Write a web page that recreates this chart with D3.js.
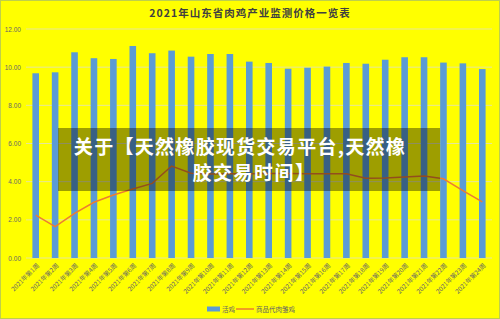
<!DOCTYPE html>
<html>
<head>
<meta charset="utf-8">
<script src="https://cdn.jsdelivr.net/npm/d3@7"></script>
<style>
  body { margin: 0; background: #ffff00; }
  text { font-family: "Noto Sans CJK SC", "Noto Sans", sans-serif; }
</style>
</head>
<body>
<div id="chart"></div>
<script>
// week labels along the bottom
const weeks = d3.range(1, 25).map(i => '2021年第' + i + '周');

// live chicken price (bars)
const liveChicken = [9.68, 9.73, 10.78, 10.47, 10.43, 11.11, 10.73, 10.87, 10.55, 10.69, 10.69, 10.29,
  10.22, 9.92, 9.97, 10.03, 10.22, 10.18, 10.39, 10.52, 10.52, 10.24, 10.2, 9.9];

// commercial broiler chick price (line)
const chickPrice = [2.25, 1.64, 2.34, 2.92, 3.3, 3.62, 3.91, 4.82, 4.44, 4.4, 4.42, 4.42,
  4.43, 4.43, 4.42, 4.42, 4.42, 4.18, 4.19, 4.24, 4.3, 4.15, 3.53, 2.94];

const yTicks = [0, 2, 4, 6, 8, 10, 12];
const seriesNames = ['活鸡', '商品代肉雏鸡'];
const title = '2021年山东省肉鸡产业监测价格一览表';
const overlayLines = ['关于【天然橡胶现货交易平台,天然橡', '胶交易时间】'];

const width = 500, height = 319;
const margin = { left: 26, right: 8, top: 29, bottom: 61 };

const svg = d3.select('#chart').append('svg')
  .attr('width', width)
  .attr('height', height);

// background + thin border
svg.append('rect')
  .attr('x', 0.5).attr('y', 0.5)
  .attr('width', width - 1).attr('height', height - 1)
  .attr('fill', '#ffff00')
  .attr('stroke', '#bfcf4a');

const x = d3.scaleBand()
  .domain(weeks)
  .range([margin.left, width - margin.right])
  .paddingInner(0.66)
  .paddingOuter(0.33);

const y = d3.scaleLinear()
  .domain([0, 12])
  .range([height - margin.bottom, margin.top]);

// gridlines
svg.append('g')
  .selectAll('line')
  .data(yTicks)
  .enter().append('line')
  .attr('x1', margin.left)
  .attr('x2', width - margin.right)
  .attr('y1', d => y(d))
  .attr('y2', d => y(d))
  .attr('stroke', '#e6e69a')
  .attr('stroke-width', 1);

// y axis labels
const yAxis = svg.append('g')
  .attr('transform', 'translate(' + margin.left + ',0)')
  .call(d3.axisLeft(y).tickValues(yTicks).tickFormat(d3.format('.2f')).tickSize(0).tickPadding(5));
yAxis.select('.domain').remove();
yAxis.selectAll('text')
  .attr('fill', '#666')
  .style('font-size', '6.5px')
  .style('font-family', '"Liberation Sans", sans-serif');

// x axis labels, rotated
const xAxis = svg.append('g')
  .attr('transform', 'translate(0,' + (height - margin.bottom) + ')')
  .call(d3.axisBottom(x).tickSize(0).tickPadding(0));
xAxis.select('.domain').remove();
xAxis.selectAll('text')
  .attr('fill', '#666')
  .style('font-size', '6.3px')
  .attr('text-anchor', 'end')
  .attr('dy', 0)
  .attr('transform', 'translate(4,8) rotate(-45)');

// bars
svg.append('g')
  .selectAll('rect')
  .data(liveChicken)
  .enter().append('rect')
  .attr('x', (d, i) => x(weeks[i]))
  .attr('y', d => y(d))
  .attr('width', x.bandwidth())
  .attr('height', d => y(0) - y(d))
  .attr('fill', '#5b9bd5');

// line
const line = d3.line()
  .x((d, i) => x(weeks[i]) + x.bandwidth() / 2)
  .y(d => y(d));

svg.append('path')
  .datum(chickPrice)
  .attr('d', line)
  .attr('fill', 'none')
  .attr('stroke', '#ed7d31')
  .attr('stroke-width', 1.5);

// title
svg.append('text')
  .attr('x', 250)
  .attr('y', 17)
  .attr('text-anchor', 'middle')
  .attr('fill', '#404040')
  .style('font-size', '10.5px')
  .style('font-weight', 'bold')
  .style('letter-spacing', '1px')
  .text(title);

// legend
const legend = svg.append('g').attr('transform', 'translate(207,309)');
legend.append('rect')
  .attr('x', 0).attr('y', -2.5)
  .attr('width', 13).attr('height', 5)
  .attr('fill', '#5b9bd5');
legend.append('text')
  .attr('x', 15).attr('y', 2.5)
  .attr('fill', '#666')
  .style('font-size', '6.5px')
  .text(seriesNames[0]);
legend.append('line')
  .attr('x1', 29).attr('x2', 47)
  .attr('y1', 0).attr('y2', 0)
  .attr('stroke', '#ed7d31')
  .attr('stroke-width', 1.5);
legend.append('text')
  .attr('x', 49).attr('y', 2.5)
  .attr('fill', '#666')
  .style('font-size', '6.5px')
  .text(seriesNames[1]);

// dark overlay box with the caption
svg.append('rect')
  .attr('x', 58).attr('y', 128)
  .attr('width', 382).attr('height', 63)
  .attr('fill', 'rgba(0,0,0,0.38)');

svg.append('text')
  .attr('x', 240).attr('y', 154)
  .attr('text-anchor', 'middle')
  .attr('fill', '#fff')
  .style('font-size', '19px')
  .style('font-weight', 'bold')
  .style('letter-spacing', '1.3px')
  .text(overlayLines[0]);

svg.append('text')
  .attr('x', 254).attr('y', 180)
  .attr('text-anchor', 'middle')
  .attr('fill', '#fff')
  .style('font-size', '19px')
  .style('font-weight', 'bold')
  .style('letter-spacing', '1.5px')
  .text(overlayLines[1]);
</script>
</body>
</html>
